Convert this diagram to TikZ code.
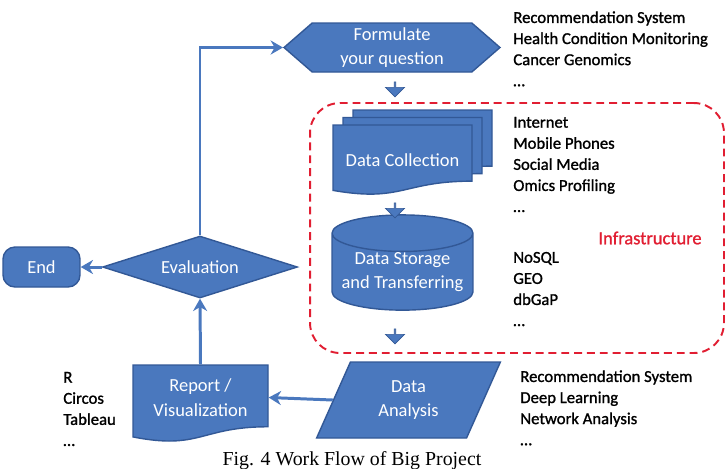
\documentclass[tikz,border=0pt]{standalone}
\usepackage{fontspec}
\setmainfont{Carlito}
\newfontfamily\listfont[FakeBold=1.2]{Carlito}
\newfontfamily\capfont{Liberation Serif}
\usetikzlibrary{shapes.geometric,shapes.symbols,shapes.arrows,arrows.meta}

\definecolor{flowblue}{RGB}{74,120,190}
\definecolor{flowedge}{RGB}{50,88,150}
\definecolor{infrared}{RGB}{225,30,50}

\tikzset{
  stage/.style={fill=flowblue, draw=flowedge, line width=0.8pt, text=white,
    font=\fontsize{10.5}{14}\selectfont, align=center, inner sep=0pt},
  flow/.style={draw=flowblue, line width=1.7pt, -{Stealth[length=7pt,width=8pt]}},
  downarrow/.style={single arrow, shape border rotate=270, fill=flowblue, draw=flowedge,
    minimum height=0.3cm, minimum width=0.38cm, single arrow head extend=0.09cm, inner sep=0pt},
  sidelist/.style={anchor=north west, align=left, inner sep=0pt, font=\listfont\fontsize{9.5}{12}\selectfont},
  frame/.style={draw=infrared, line width=1.1pt, dash pattern=on 4.5pt off 2.8pt, rounded corners=0.6cm},
}

% document shape: top-left x, y, width, height
\newcommand{\docshape}[4]{%
  \filldraw[fill=flowblue, draw=flowedge, line width=0.8pt] (#1,#2) -- ++(#3,0) -- ({#1+#3},{#2+0.802*#4})
    .. controls ({#1+0.5*#3},{#2+0.802*#4}) and ({#1+0.5*#3},{#2+1.107*#4}) .. (#1,{#2+0.934*#4}) -- cycle;}

\begin{document}
\begin{tikzpicture}[x=0.02cm, y=-0.02cm]
\useasboundingbox (0,0) rectangle (727,468);

% infrastructure frame
\node[frame, minimum width=8.28cm, minimum height=5cm] (infra) at (517,228) {};
\node[text=infrared, font=\listfont\fontsize{10.5}{12}\selectfont] (infralab) at (650,238) {Infrastructure};

% main flow
\node[stage, signal, signal to=west and east, signal pointer angle=82,
  minimum width=4.32cm, minimum height=0.98cm] (quest) at (392,47.5) {Formulate\\your question};

\docshape{353}{110}{139}{70}
\docshape{343}{117.5}{139}{70}
\docshape{333}{125}{139}{70}
\node[stage, fill=none, draw=none, minimum width=2.78cm, minimum height=1.2cm] (collect) at (402.5,160) {Data Collection};

\node[stage, cylinder, shape border rotate=90, aspect=0.3,
  minimum width=2.82cm, minimum height=1.8cm] (store) at (402.5,272) {Data Storage\\and Transferring};

\node[stage, trapezium, trapezium left angle=66, trapezium right angle=114,
  minimum width=3.46cm, minimum height=1.52cm] (analysis) at (408.5,400) {Data\\Analysis};

\docshape{133}{365}{135}{77}
\node[stage, fill=none, draw=none, minimum width=2.7cm, minimum height=1.3cm] (report) at (200.5,397.5) {Report /\\Visualization};

\node[stage, diamond, aspect=3.1, minimum width=3.9cm, minimum height=1.24cm] (eval) at (200,267) {Evaluation};
\node[stage, rounded corners=0.24cm, minimum width=1.54cm, minimum height=0.8cm] (finish) at (41.5,267) {End};

\node[downarrow] (dn1) at (395,89) {};
\node[downarrow] (dn2) at (395,210) {};
\node[downarrow] (dn3) at (395,336) {};

\draw[flow] (eval.north) |- (quest.west);
\draw[flow] (report.north) -- (eval.south);
\draw[flow] (eval.west) -- (finish.east);
\draw[flow] (analysis.west) -- (report.east);

% side lists
\node[sidelist] (goals) at (513,11) {Recommendation System\\Health Condition Monitoring\\Cancer Genomics\\…};
\node[sidelist] (sources) at (513,116.6) {Internet\\Mobile Phones\\Social Media\\Omics Profiling\\…};
\node[sidelist] (dbs) at (513,251.6) {NoSQL\\GEO\\dbGaP\\…};
\node[sidelist] (methods) at (520,370) {Recommendation System\\Deep Learning\\Network Analysis\\…};
\node[sidelist] (tools) at (63,371.6) {R\\Circos\\Tableau\\…};

\node[font=\capfont\fontsize{11.3}{13}\selectfont, inner sep=0pt] (caption) at (352,461) {Fig. 4 Work Flow of Big Project};
\end{tikzpicture}
\end{document}
